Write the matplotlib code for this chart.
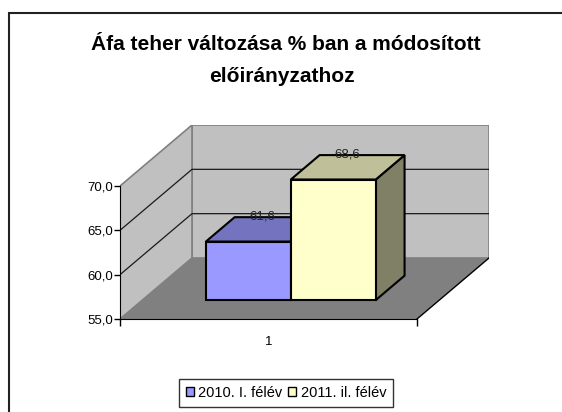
import matplotlib
matplotlib.use("Agg")
import matplotlib.pyplot as plt
from matplotlib.patches import Polygon, Patch, Rectangle
from matplotlib.ticker import FuncFormatter

plt.rcParams['font.family'] = ['Liberation Sans', 'DejaVu Sans']

# ---- data ----
title_lines = ["Áfa teher változása % ban a módosított", "előirányzathoz"]
categories = ["1"]
series_names = ["2010. I. félév", "2011. il. félév"]
values = [61.6, 68.6]
value_labels = ["61,6", "68,6"]
y_ticks = [55, 60, 65, 70]

# ---- style ----
front_colors = ["#9999FF", "#FFFFCC"]
top_colors = ["#7373BF", "#BFBF99"]
side_colors = ["#4D4D80", "#808066"]
wall_color = "#C0C0C0"
floor_color = "#808080"

W, H = 562, 412
fig = plt.figure(figsize=(W / 100, H / 100), dpi=100)

# axes placement (pixels)
ax_left_px, ax_right_px = 120, 489
ax_bottom_px, ax_top_px = 319, 125
ax = fig.add_axes([ax_left_px / W, 1 - ax_bottom_px / H,
                   (ax_right_px - ax_left_px) / W, (ax_bottom_px - ax_top_px) / H])

ymin, ymax = y_ticks[0], y_ticks[-1]
x_front_px = 297.0
px_per_val = (319 - 186) / (ymax - ymin)
DX = 72 / x_front_px        # depth offset in x data units
DY = 61 / px_per_val        # depth offset in y data units

xlo, xhi = 0.5, 0.5 + len(categories)
ax.set_xlim(xlo, xhi + DX)
ax.set_ylim(ymin, ymax + DY)
ax.patch.set_visible(False)


def P(x, v, z):
    return (x + z * DX, v + z * DY)


# walls and floor
back = [P(xlo, ymin, 1), P(xhi, ymin, 1), P(xhi, ymax, 1), P(xlo, ymax, 1)]
left = [P(xlo, ymin, 0), P(xlo, ymin, 1), P(xlo, ymax, 1), P(xlo, ymax, 0)]
floor = [P(xlo, ymin, 0), P(xhi, ymin, 0), P(xhi, ymin, 1), P(xlo, ymin, 1)]
ax.add_patch(Polygon(back, closed=True, fc=wall_color, ec="#808080", lw=1.2, zorder=1))
ax.add_patch(Polygon(left, closed=True, fc=wall_color, ec="#808080", lw=1.2, zorder=1))
ax.add_patch(Polygon(floor, closed=True, fc=floor_color, ec="none", zorder=1.5))
# floor right edge
ax.plot(*zip(P(xhi, ymin, 0), P(xhi, ymin, 1)), color="black", lw=1, zorder=2)

# gridlines
for v in y_ticks[1:-1]:
    pts = [P(xlo, v, 0), P(xlo, v, 1), P(xhi, v, 1)]
    ax.plot(*zip(*pts), color="#1a1a1a", lw=0.9, zorder=1.8)

# bars
bw = 0.286
z0, z1 = 0.31, 0.71
for i, (v, fc, tc, sc) in enumerate(zip(values, front_colors, top_colors, side_colors)):
    x0 = 1 - bw + i * bw
    x1 = x0 + bw
    top = [P(x0, v, z0), P(x1, v, z0), P(x1, v, z1), P(x0, v, z1)]
    side = [P(x1, ymin, z0), P(x1, ymin, z1), P(x1, v, z1), P(x1, v, z0)]
    front = [P(x0, ymin, z0), P(x1, ymin, z0), P(x1, v, z0), P(x0, v, z0)]
    zb = 3 + i
    ax.add_patch(Polygon(side, closed=True, fc=sc, ec="black", lw=1.5, joinstyle="miter", zorder=zb))
    ax.add_patch(Polygon(top, closed=True, fc=tc, ec="black", lw=1.5, joinstyle="miter", zorder=zb))
    ax.add_patch(Polygon(front, closed=True, fc=fc, ec="black", lw=1.5, joinstyle="miter", zorder=zb + 0.1))
    lx, ly = P((x0 + x1) / 2, v, (z0 + z1) / 2)
    ax.annotate(value_labels[i], (lx, ly), xytext=(0, 13), textcoords="offset pixels",
                ha="center", va="center", fontsize=9.5, color="#222222", zorder=10)

# axes styling
for s in ["top", "right"]:
    ax.spines[s].set_visible(False)
ax.spines["left"].set_bounds(ymin, ymax)
ax.spines["bottom"].set_bounds(xlo, xhi)
ax.spines["left"].set_zorder(2.5)
ax.spines["bottom"].set_zorder(2.5)
ax.set_yticks(y_ticks)
ax.yaxis.set_major_formatter(FuncFormatter(lambda v, p: f"{v:.1f}".replace(".", ",")))
ax.tick_params(axis="y", direction="out", length=4, width=1, labelsize=9.5, pad=1)
ax.set_xticks([xlo, xhi])
ax.set_xticklabels(["", ""])
ax.set_xticks([1], minor=True)
ax.set_xticklabels(categories, minor=True)
ax.tick_params(axis="x", which="minor", length=0, labelsize=9.5, pad=12)
ax.tick_params(axis="x", which="major", direction="out", length=5, width=1)

# title
fig.text(286 / W, 1 - 44 / H, title_lines[0], ha="center", va="center",
         fontsize=15, fontweight="bold")
fig.text(282 / W, 1 - 76 / H, title_lines[1], ha="center", va="center",
         fontsize=15, fontweight="bold")

# legend
handles = [Patch(fc=c, ec="black", lw=1) for c in front_colors]
leg = fig.legend(handles, series_names, loc="center", bbox_to_anchor=(286 / W, 1 - 393 / H),
                 ncol=2, fontsize=10.5, frameon=True, fancybox=False, edgecolor="black",
                 handlelength=0.55, handleheight=0.55, handletextpad=0.3, columnspacing=0.4,
                 borderpad=0.45, borderaxespad=0)
leg.get_frame().set_linewidth(1)

# chart frame (extends past right and bottom edges)
fig.add_artist(Rectangle((8.5 / W, -0.1), 1.2, 1 - 13.5 / H + 0.1, transform=fig.transFigure,
                         fill=False, ec="#222222", lw=1.5))

fig.savefig("out.png", dpi=100)
